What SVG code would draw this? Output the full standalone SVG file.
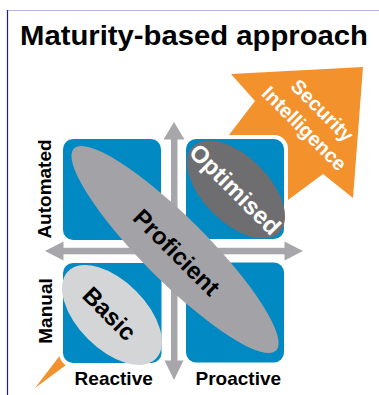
<svg xmlns="http://www.w3.org/2000/svg" width="379" height="395" viewBox="0 0 379 395">
  <style>
    .t{font-family:"Liberation Sans",Arial,sans-serif;font-weight:bold}
    .box{fill:#0089c2}
    .axis{fill:#a7a7ab}
    .ax{font-size:19px;fill:#000}
    .in{font-size:24px;text-anchor:middle}
  </style>
  <rect x="0" y="0" width="379" height="395" fill="#fff"/>
  <g id="frame">
    <line x1="7" y1="10.5" x2="379" y2="10.5" stroke="#b4b4e6" stroke-width="1"/>
    <line x1="7.5" y1="10" x2="7.5" y2="395" stroke="#1b1b8f" stroke-width="1.2"/>
  </g>
  <text id="title" class="t" x="20" y="45" font-size="28" textLength="348" lengthAdjust="spacingAndGlyphs">Maturity-based approach</text>
  <g id="security-intelligence">
    <polygon points="35,388 255,101 231,74 363,67 353,198 323,174" fill="#f3922c"/>
    <g transform="translate(312.9,119.9) rotate(45)" class="t" fill="#fff" font-size="20" text-anchor="middle">
      <text x="0" y="-6.5">Security</text>
      <text x="0" y="19">Intelligence</text>
    </g>
  </g>
  <rect id="grid-bg" x="59" y="135" width="229" height="232" rx="14" fill="#fff"/>
  <g id="quadrants">
    <rect id="q-reactive-automated" class="box" x="63" y="139" width="98" height="101" rx="10"/>
    <rect id="q-proactive-automated" class="box" x="186" y="139" width="98" height="100" rx="10"/>
    <rect id="q-reactive-manual" class="box" x="63" y="263" width="98.5" height="100" rx="10"/>
    <rect id="q-proactive-manual" class="box" x="186" y="262.5" width="98" height="100" rx="10"/>
  </g>
  <g id="connectors" class="axis">
    <rect x="171" y="136" width="6.5" height="227"/>
    <polygon points="163.5,139.5 174,122 184.5,139.5"/>
    <polygon points="164.5,360.5 174,380 183.5,360.5"/>
    <rect x="61" y="247.8" width="226" height="6.5"/>
    <polygon points="63.5,241.5 45,251 63.5,260.5"/>
    <polygon points="284.5,241.5 303,251 284.5,260.5"/>
  </g>
  <g id="basic">
    <ellipse cx="112" cy="315" rx="62" ry="34" transform="rotate(45 112 315)" fill="#d3d5d6"/>
    <text class="t in" transform="translate(109.5,313.5) rotate(45)" x="0" y="8.4" fill="#000">Basic</text>
  </g>
  <g id="optimised">
    <ellipse cx="236" cy="189.5" rx="61" ry="33" transform="rotate(45 236 189.5)" fill="#6e6e71"/>
    <text class="t in" transform="translate(235.2,189.2) rotate(45)" x="0" y="8.4" fill="#fff">Optimised</text>
  </g>
  <g id="proficient">
    <ellipse cx="175" cy="249.5" rx="143" ry="32" transform="rotate(45 175 249.5)" fill="#a3a2a6"/>
    <text class="t in" transform="translate(176.6,252.3) rotate(45)" x="0" y="8.4" fill="#000">Proficient</text>
  </g>
  <g id="axis-labels" class="t ax" text-anchor="middle">
    <text transform="translate(50.6,189) rotate(-90)" x="0" y="0">Automated</text>
    <text transform="translate(51.6,311) rotate(-90)" x="0" y="0">Manual</text>
    <text x="113.7" y="385">Reactive</text>
    <text x="238.3" y="385">Proactive</text>
  </g>
</svg>
